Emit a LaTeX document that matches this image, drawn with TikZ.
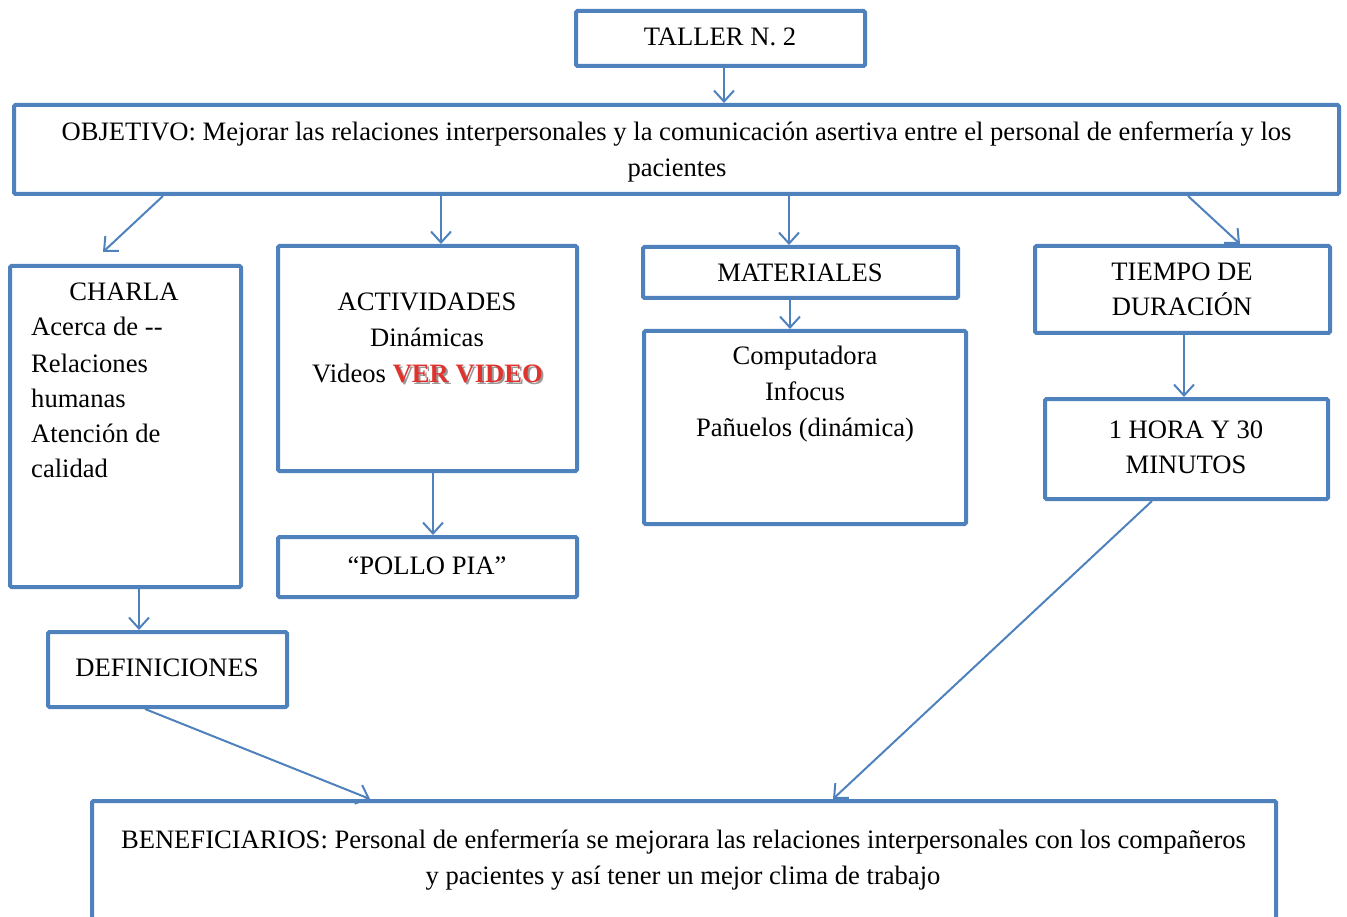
\documentclass[tikz,border=0pt]{standalone}
\usepackage{fontspec}
\setmainfont{Liberation Serif}
\usetikzlibrary{arrows.meta}
\definecolor{boxblue}{HTML}{4F81BD}
\definecolor{wordred}{rgb}{0.88,0.20,0.18}
\begin{document}
\begin{tikzpicture}[x=1pt,y=-1pt,
  box/.style={draw=boxblue,line width=4pt,rounded corners=1.5pt,inner sep=0pt,
    minimum width=#1},
  txt/.style={inner sep=0pt,font=\fontsize{26.6}{35}\selectfont},
  link/.style={draw=boxblue,line width=2pt,line join=miter,
    -{Straight Barb[length=11pt,width=20pt]}}]
\useasboundingbox (0,0) rectangle (1347,917);

% boxes (centre, width, height)
\node[box=289pt,minimum height=55pt] (taller) at (720.5,38.5) {};
\node[box=1325pt,minimum height=89pt] (obj) at (676.5,149.5) {};
\node[box=231pt,minimum height=321pt] (charla) at (125.5,426.5) {};
\node[box=299pt,minimum height=225pt] (act) at (427.5,358.5) {};
\node[box=299pt,minimum height=60pt] (pollo) at (427.5,567) {};
\node[box=315pt,minimum height=51pt] (mat) at (800.5,272.5) {};
\node[box=322pt,minimum height=193pt] (comp) at (805,427.5) {};
\node[box=295pt,minimum height=87pt] (tiempo) at (1182.5,289.5) {};
\node[box=283pt,minimum height=100pt] (hora) at (1186.5,449) {};
\node[box=239pt,minimum height=75pt] (def) at (167.5,669.5) {};
\node[box=1184pt,minimum height=120pt] (ben) at (684,861) {};

% texts, placed by baseline
\node[txt,anchor=base] (tTaller) at (720,46) {TALLER N. 2};
\node[txt,anchor=base] (tObj1) at (676.5,141) {OBJETIVO: Mejorar las relaciones interpersonales y la comunicación asertiva entre el personal de enfermería y los};
\node[txt,anchor=base] (tObj2) at (677,177) {pacientes};

\node[txt,anchor=base] (tCharla) at (124,301) {CHARLA};
\node[txt,anchor=base west] (tC1) at (31,336) {Acerca de -{}-};
\node[txt,anchor=base west] (tC2) at (31,372) {Relaciones};
\node[txt,anchor=base west] (tC3) at (31,407) {humanas};
\node[txt,anchor=base west] (tC4) at (31,442) {Atención de};
\node[txt,anchor=base west] (tC5) at (31,477) {calidad};

\node[txt,anchor=base] (tAct1) at (427,311) {ACTIVIDADES};
\node[txt,anchor=base] (tAct2) at (427,347) {Dinámicas};
\node[txt,anchor=base west] (tAct3) at (312,382) {Videos};
% word-art link text: grey drop shadow under red bold letters
\node[txt,anchor=base east] (tVid) at (543,382)
  {\bfseries\rlap{\raisebox{-2pt}{\hspace*{2pt}\color{black!40}VER VIDEO}}\color{wordred}VER VIDEO};

\node[txt,anchor=base] (tPollo) at (427,574) {“POLLO PIA”};

\node[txt,anchor=base] (tMat) at (800,282) {MATERIALES};
\node[txt,anchor=base] (tComp1) at (805,365) {Computadora};
\node[txt,anchor=base] (tComp2) at (805,400) {Infocus};
\node[txt,anchor=base] (tComp3) at (805,436) {Pañuelos (dinámica)};

\node[txt,anchor=base] (tTiempo1) at (1182,281) {TIEMPO DE};
\node[txt,anchor=base] (tTiempo2) at (1182,316) {DURACIÓN};
\node[txt,anchor=base] (tHora1) at (1186,438) {1 HORA Y 30};
\node[txt,anchor=base] (tHora2) at (1186,473) {MINUTOS};

\node[txt,anchor=base] (tDef) at (167,676) {DEFINICIONES};

\node[txt,anchor=base] (tBen1) at (683.5,848) {BENEFICIARIOS: Personal de enfermería se mejorara las relaciones interpersonales con los compañeros};
\node[txt,anchor=base] (tBen2) at (683,884) {y pacientes y así tener un mejor clima de trabajo};

% connectors
\draw[link] ([xshift=3.5pt]taller.south) -- ([xshift=47.5pt]obj.north);
\draw[link] ([xshift=-513.5pt]obj.south) -- ([xshift=-22.5pt,yshift=12pt]charla.north);
\draw[link] ([xshift=-235.5pt]obj.south) -- ([xshift=13.5pt]act.north);
\draw[link] ([xshift=112.5pt]obj.south) -- ([xshift=-11.5pt]mat.north);
\draw[link] ([xshift=511.5pt]obj.south) -- ([xshift=57.5pt]tiempo.north);
\draw[link] ([xshift=5.5pt]act.south) -- ([xshift=5.5pt]pollo.north);
\draw[link] ([xshift=-10.5pt]mat.south) -- ([xshift=-15pt]comp.north);
\draw[link] ([xshift=1.5pt]tiempo.south) -- ([xshift=-2.5pt]hora.north);
\draw[link] ([xshift=13.5pt]charla.south) -- ([xshift=-28.5pt]def.north);
\draw[link] ([xshift=-22.5pt]def.south) -- ([xshift=-314pt]ben.north);
\draw[link] ([xshift=-34.5pt]hora.south) -- ([xshift=149pt]ben.north);
\end{tikzpicture}
\end{document}
